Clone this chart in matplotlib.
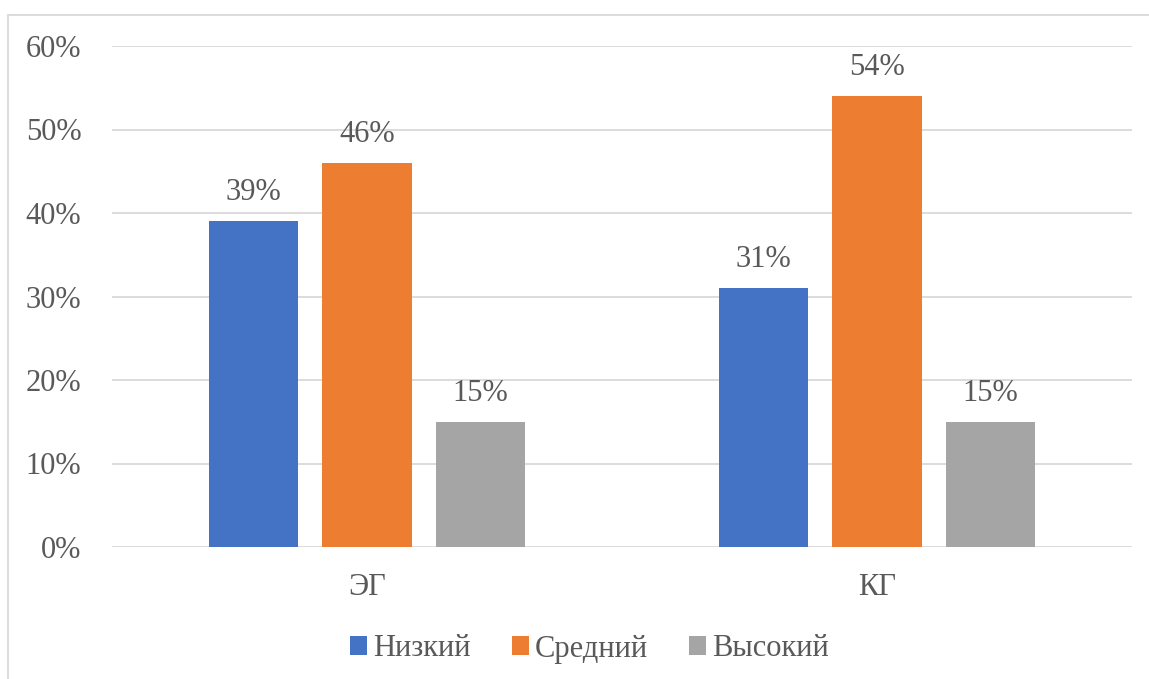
import matplotlib.pyplot as plt
import numpy as np
from matplotlib.patches import Rectangle

groups = ['ЭГ', 'КГ']
series = ['Низкий', 'Средний', 'Высокий']
values = [[39, 31], [46, 54], [15, 15]]
colors = ['#4472C4', '#ED7D31', '#A5A5A5']
ticks = [0, 10, 20, 30, 40, 50, 60]

plt.rcParams['font.family'] = ['Liberation Serif', 'DejaVu Serif']
txt = '#595959'
fs = 22

fig = plt.figure(figsize=(11.49, 6.79), dpi=100)
ax = fig.add_axes([112 / 1149, 1 - 547 / 679, 1020 / 1149, 501 / 679])

x = np.arange(len(groups))
w = 0.175
step = 0.222
for i, (name, vals) in enumerate(zip(series, values)):
    bars = ax.bar(x + (i - 1) * step, vals, w, color=colors[i], label=name, zorder=3)
    for b, v in zip(bars, vals):
        ax.annotate(f'{v}%', (b.get_x() + b.get_width() / 2, v), xytext=(0, 10),
                    textcoords='offset points', ha='center', va='bottom',
                    fontsize=fs, color=txt)

ax.set_xlim(-0.5, 1.5)
ax.set_ylim(0, 60)
ax.set_yticks(ticks)
ax.set_yticklabels([f'{t}%' for t in ticks])
ax.set_xticks(x)
ax.set_xticklabels(groups)
ax.tick_params(axis='y', length=0, pad=22, labelsize=fs, labelcolor=txt)
ax.tick_params(axis='x', length=0, pad=19, labelsize=fs, labelcolor=txt)
ax.grid(axis='y', color='#D9D9D9', linewidth=1.3, zorder=0)
for s in ax.spines.values():
    s.set_visible(False)

leg = fig.legend(loc='center', bbox_to_anchor=(0.513, 1 - 649 / 679), ncol=3,
                 frameon=False, fontsize=fs, handlelength=0.55, handleheight=0.55,
                 handletextpad=0.2, columnspacing=1.35)
for t in leg.get_texts():
    t.set_color(txt)

# outer chart border (left and top visible)
fig.patches.append(Rectangle((8 / 1149, -0.1), 1.1, 1.1 - 15 / 679, transform=fig.transFigure,
                             fill=False, edgecolor='#D9D9D9', linewidth=1.3))

fig.savefig('out.png', dpi=100)
